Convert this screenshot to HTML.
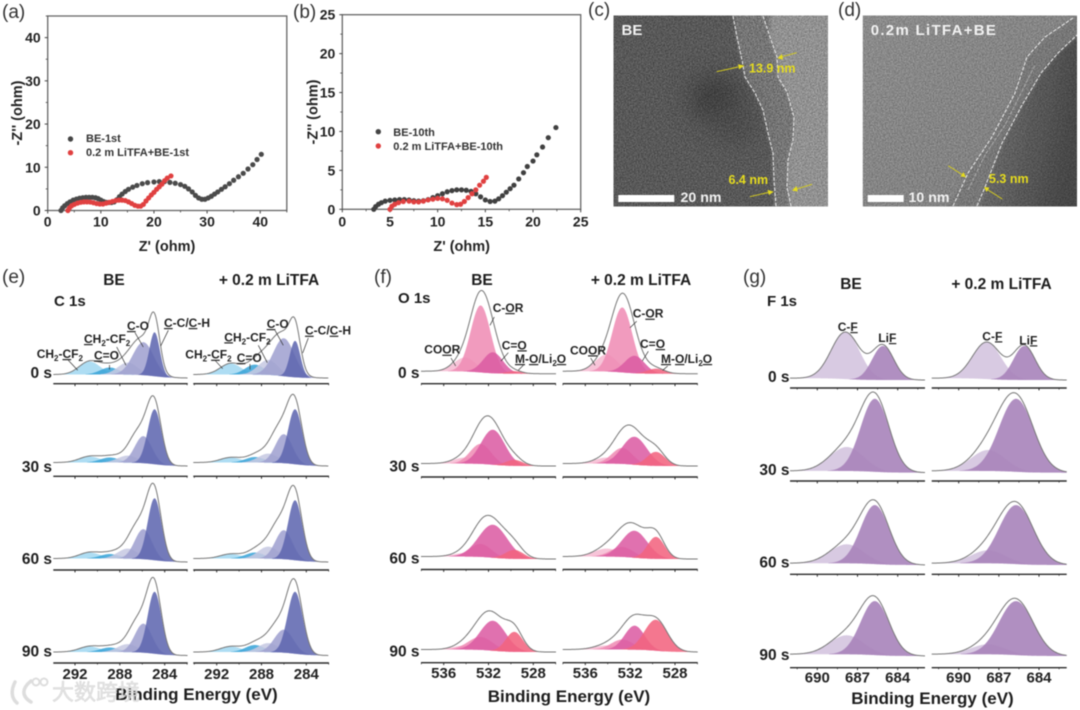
<!DOCTYPE html>
<html lang="en">
<head>
<meta charset="utf-8">
<title>EIS, TEM and XPS composite figure</title>
<style>
html,body{margin:0;padding:0;background:#fff;width:1080px;height:710px;overflow:hidden}
#chart{display:block;filter:blur(.5px)}
text{font-family:"Liberation Sans","Noto Sans CJK SC",sans-serif;fill:#1d1d1d}
.b{font-weight:700}
.pl{font-size:19px;fill:#333}
.tick{font-size:15px;font-weight:700;text-anchor:middle;fill:#222}
.nqtick{font-size:14px;font-weight:700;text-anchor:middle;fill:#222}
.ytick{font-size:14px;font-weight:700;text-anchor:end;fill:#222}
.ttl{font-size:14.5px;font-weight:700;text-anchor:middle;fill:#222}
.leg{font-size:11px;font-weight:700;fill:#333}
.hd{font-size:15.5px;font-weight:700;text-anchor:middle}
.be{font-size:17px;font-weight:700;text-anchor:middle}
.ann{font-size:12px;font-weight:700;fill:#222}
.ann tspan.u{text-decoration:underline}
.sub{font-size:8px}
.yel{font-size:12.5px;font-weight:700;fill:#e6dc1e}
.wh{font-weight:700;fill:#f2f2f2}
.lead{stroke:#333;stroke-width:.7;fill:none}
.dash{stroke:#eee;stroke-width:1;fill:none;stroke-dasharray:3.5 1.6}
.arr{stroke:#d9cf1c;stroke-width:.9;fill:none}
.arh{fill:#e6dc1e}
</style>
</head>
<body>
<svg id="chart" xmlns="http://www.w3.org/2000/svg" width="1080" height="710" viewBox="0 0 1080 710">
<defs>
<filter id="grain" x="0" y="0" width="100%" height="100%" color-interpolation-filters="sRGB">
<feTurbulence type="fractalNoise" baseFrequency="0.75" numOctaves="2" seed="4"/>
<feColorMatrix type="matrix" values="1.6 0 0 0 -.3 1.6 0 0 0 -.3 1.6 0 0 0 -.3 0 0 0 0 1"/>
</filter>
<filter id="soft" x="-80%" y="-80%" width="260%" height="260%"><feGaussianBlur stdDeviation="12"/></filter>
<filter id="soft2" x="-20%" y="-20%" width="140%" height="140%"><feGaussianBlur stdDeviation="1.5"/></filter>
<clipPath id="clipC"><rect x="613.5" y="15.5" width="214.5" height="191"/></clipPath>
<clipPath id="clipD"><rect x="862.7" y="15.5" width="214.3" height="191"/></clipPath>
<linearGradient id="dDark" x1="0" y1="0" x2="1" y2="0.3"><stop offset="0" stop-color="#757575"/><stop offset="1" stop-color="#464646"/></linearGradient>
<linearGradient id="dLeft" x1="0" y1="0" x2="1" y2="1"><stop offset="0" stop-color="#8b8b8b"/><stop offset="1" stop-color="#7d7d7d"/></linearGradient>
</defs>

<g id="panel-a">
<text class="pl" x="2" y="18">(a)</text>
<text class="ttl" x="167" y="251">Z' (ohm)</text>
<text class="ttl" transform="translate(22,113) rotate(-90)">-Z'' (ohm)</text>
<circle cx="70.5" cy="139" r="2.7" fill="#444"/>
<text class="leg" x="86" y="142">BE-1st</text>
<circle cx="70.5" cy="152.7" r="2.7" fill="#e04040"/>
<text class="leg" x="86" y="156">0.2 m LiTFA+BE-1st</text>
</g>

<g id="panel-b">
<text class="pl" x="293" y="18">(b)</text>
<text class="ttl" x="461.7" y="251">Z' (ohm)</text>
<text class="ttl" transform="translate(317.5,112) rotate(-90)">-Z'' (ohm)</text>
<circle cx="378.3" cy="131.7" r="2.7" fill="#444"/>
<text class="leg" x="393.3" y="136">BE-10th</text>
<circle cx="378.3" cy="146" r="2.7" fill="#e04040"/>
<text class="leg" x="393.3" y="150">0.2 m LiTFA+BE-10th</text>
</g>

<g id="panel-c">
<text class="pl" x="588" y="16">(c)</text>
<g clip-path="url(#clipC)">
<rect x="613.5" y="15.5" width="214.5" height="191" fill="#919191"/>
<path filter="url(#soft2)" d="M732,10 L770,10 L770,37 L777,57 L778,77 L787,92 L794,117 L793,140 L788,160 L787,187 L791,212 L775,212 L774,180 L773,153 L768,133 L763,110 L755,93 L745,77 L742,60 L737,37 Z" fill="#757575"/>
<path filter="url(#soft2)" d="M605,10 L733,10 L737,37 L742,60 L745,77 L755,93 L763,110 L768,133 L773,153 L774,180 L775,212 L605,212 Z" fill="#585858"/>
<ellipse cx="715" cy="98" rx="26" ry="24" fill="#3c3c3c" filter="url(#soft)" opacity=".9"/>
<ellipse cx="735" cy="125" rx="20" ry="18" fill="#484848" filter="url(#soft)" opacity=".9"/>
<rect x="613.5" y="15.5" width="214.5" height="191" filter="url(#grain)" style="mix-blend-mode:overlay" opacity=".35"/>
<path class="dash" d="M733,16 L737,37 L742,60 L745,77 L755,93 L763,110 L768,133 L773,153 L774,180 L776,206"/>
<path class="dash" d="M763,16 L770,37 L777,57 L778,77 L787,92 L794,117 L793,140 L788,160 L787,187 L791,206"/>
</g>
<rect x="618.3" y="195" width="56" height="7" fill="#fff"/>
<text class="wh" x="680.5" y="202" font-size="14.2">20 nm</text>
<text class="wh" x="621.5" y="35" font-size="15">BE</text>
<text class="yel" x="749" y="72.5">13.9 nm</text>
<text class="yel" x="728.5" y="184">6.4 nm</text>
<path class="arr" d="M716.7,71.7 L738,67"/><path class="arh" d="M738,64.2 L739,69.4 L744.5,65.6 Z"/>
<path class="arr" d="M796.7,52.7 L781,57"/><path class="arh" d="M782,54 L783,59.6 L777.5,58.3 Z"/>
<path class="arr" d="M750,196.7 L768,192.5"/><path class="arh" d="M767.5,189.8 L768.8,195 L773.7,191.7 Z"/>
<path class="arr" d="M812,184.3 L796,189.2"/><path class="arh" d="M796.5,186 L797.7,191.5 L792,190.5 Z"/>
</g>

<g id="panel-d">
<text class="pl" x="838" y="16">(d)</text>
<g clip-path="url(#clipD)">
<rect x="862.7" y="15.5" width="214.3" height="191" fill="url(#dLeft)"/>
<path filter="url(#soft2)" d="M945,212 L968,173 L992,137 L1015,93 L1027,57 L1045,37 L1085,10 L1085,35 L1058,53 L1041,73 L1021,107 L1002,143 L985,187 L977,212 Z" fill="#777"/>
<path filter="url(#soft2)" d="M977,212 L985,187 L1002,143 L1021,107 L1041,73 L1058,53 L1085,30 L1085,212 Z" fill="url(#dDark)"/>
<rect x="862.7" y="15.5" width="214.3" height="191" filter="url(#grain)" style="mix-blend-mode:overlay" opacity=".25"/>
<path class="dash" d="M953,206 L968,173 L992,137 L1015,93 L1027,57 L1045,37 L1073,18"/>
<path class="dash" d="M977,206 L985,187 L1002,143 L1021,107 L1041,73 L1058,53 L1077,35"/>
<path class="dash" style="opacity:.45" d="M968,190 L985,155 L1005,125 L1025,85 L1035,65"/>
</g>
<rect x="867.7" y="195" width="36" height="7" fill="#fff"/>
<text class="wh" x="908.5" y="202" font-size="14.2">10 nm</text>
<text class="wh" x="870.7" y="35" font-size="15" letter-spacing="1.3">0.2m LiTFA+BE</text>
<text class="yel" x="989" y="183">5.3 nm</text>
<path class="arr" d="M948.3,165.7 L962,174.5"/><path class="arh" d="M963.5,172 L960.5,176.5 L966,177.3 Z"/>
<path class="arr" d="M1002.3,199 L988,190"/><path class="arh" d="M989.5,187.6 L986.5,192 L984,187 Z"/>
</g>

<g id="panel-e">
<text class="pl" x="2" y="283">(e)</text>
<text class="hd" x="114" y="285">BE</text>
<text class="hd" x="269" y="285">+ 0.2 m LiTFA</text>
<text class="b" x="54" y="306" font-size="15">C 1s</text>
<text class="be" x="196.5" y="700">Binding Energy (eV)</text>
</g>
<g id="panel-f">
<text class="pl" x="374" y="283">(f)</text>
<text class="hd" x="482" y="285">BE</text>
<text class="hd" x="641" y="285">+ 0.2 m LiTFA</text>
<text class="b" x="398" y="303" font-size="15">O 1s</text>
<text class="be" x="569" y="702">Binding Energy (eV)</text>
</g>
<g id="panel-g">
<text class="pl" x="743" y="283">(g)</text>
<text class="hd" x="851" y="289">BE</text>
<text class="hd" x="1001.5" y="289">+ 0.2 m LiTFA</text>
<text class="b" x="767" y="306" font-size="15">F 1s</text>
<text class="be" x="932.5" y="704">Binding Energy (eV)</text>
</g>

<g id="annotations">
<!-- panel e, BE -->
<text class="ann" x="36.7" y="358">CH<tspan class="sub" dy="3">2</tspan><tspan dy="-3">-</tspan><tspan class="u">C</tspan>F<tspan class="sub" dy="3">2</tspan></text>
<text class="ann" x="94" y="359.5"><tspan class="u">C</tspan>=O</text>
<text class="ann" x="84" y="343"><tspan class="u">C</tspan>H<tspan class="sub" dy="3">2</tspan><tspan dy="-3">-CF</tspan><tspan class="sub" dy="3">2</tspan></text>
<text class="ann" x="127" y="330"><tspan class="u">C</tspan>-O</text>
<text class="ann" x="164" y="327"><tspan class="u">C</tspan>-C/<tspan class="u">C</tspan>-H</text>
<path class="lead" d="M68.3,360.3 L77.7,370.3 M109.5,365 L109.5,369.5 M116.7,347 L126,365.3 M135,332.7 L143.3,347 M168.3,330.3 L160.7,346"/>
<!-- panel e, LiTFA -->
<text class="ann" x="185.3" y="358.7">CH<tspan class="sub" dy="3">2</tspan><tspan dy="-3">-</tspan><tspan class="u">C</tspan>F<tspan class="sub" dy="3">2</tspan></text>
<text class="ann" x="236.7" y="362"><tspan class="u">C</tspan>=O</text>
<text class="ann" x="224.3" y="341.3"><tspan class="u">C</tspan>H<tspan class="sub" dy="3">2</tspan><tspan dy="-3">-CF</tspan><tspan class="sub" dy="3">2</tspan></text>
<text class="ann" x="266.7" y="328"><tspan class="u">C</tspan>-O</text>
<text class="ann" x="305" y="334.7"><tspan class="u">C</tspan>-C/<tspan class="u">C</tspan>-H</text>
<path class="lead" d="M215,360.3 L222.7,368.7 M250,364 L250,369.5 M258.3,345.3 L267.3,362.7 M275,330.3 L283.3,345.3 M308.3,338 L302.7,353"/>
<!-- panel f, BE -->
<text class="ann" x="492.7" y="312">C-<tspan class="u">O</tspan>R</text>
<text class="ann" x="424.3" y="353.7">CO<tspan class="u">O</tspan>R</text>
<text class="ann" x="501.7" y="349.3">C=<tspan class="u">O</tspan></text>
<text class="ann" x="515" y="363"><tspan class="u">M</tspan>-<tspan class="u">O</tspan>/Li<tspan class="sub" dy="3">2</tspan><tspan class="u" dy="-3">O</tspan></text>
<path class="lead" d="M494.3,317 L490,325.3 M451,358 L455.7,366 M508.3,352.7 L501,361 M523.3,365.3 L518.3,370.3"/>
<!-- panel f, LiTFA -->
<text class="ann" x="632.7" y="317.7">C-<tspan class="u">O</tspan>R</text>
<text class="ann" x="570" y="354.3">CO<tspan class="u">O</tspan>R</text>
<text class="ann" x="640" y="348">C=<tspan class="u">O</tspan></text>
<text class="ann" x="661" y="363"><tspan class="u">M</tspan>-<tspan class="u">O</tspan>/Li<tspan class="sub" dy="3">2</tspan><tspan class="u" dy="-3">O</tspan></text>
<path class="lead" d="M636.7,321.3 L630,327.7 M590.7,358 L595,365.3 M648.3,351.3 L642.3,361 M667.7,366 L662.7,370.3"/>
<!-- panel g -->
<text class="ann" x="837.7" y="331">C-<tspan class="u">F</tspan></text>
<text class="ann" x="878.3" y="342">Li<tspan class="u">F</tspan></text>
<text class="ann" x="982.3" y="340.3">C-<tspan class="u">F</tspan></text>
<text class="ann" x="1019.3" y="344.3">Li<tspan class="u">F</tspan></text>
</g>

<g id="watermark" opacity=".85">
<g fill="none" stroke="#d8d8d8" stroke-width="3.5" stroke-linecap="round">
<path d="M15,682 C11,690 11,698 17,703"/><path d="M31,681 C22,688 21,696 31,702"/>
<circle cx="36" cy="682" r="3.5" stroke-width="2"/><circle cx="44" cy="682" r="3.5" stroke-width="2"/>
</g>
<text x="52" y="700" font-size="22" style="fill:#e0e0e0;stroke:#cfcfcf;stroke-width:.5">大数跨境</text>
</g>
</svg>

<script>
/* ---------- panel (a) data ---------- */
const aBeX=[2.5,2.8,3.2,3.7,4.2,4.8,5.4,6,6.6,7.2,7.8,8.4,9,9.5,10,10.5,11,11.5,12,12.5,13,13.5,14,14.6,15.2,16,16.8,17.8,18.8,20,21,22,23,24,25,25.8,26.5,27.2,27.8,28.4,29,29.6,30.2,30.8,31.4,32,32.7,33.4,34.2,35,35.9,36.8,37.7,38.6,39.4,40.2];
const aBeY=[0,0.6,1.1,1.6,2,2.4,2.65,2.85,2.95,3.05,3.05,3.05,2.95,2.75,2.4,2.1,1.9,1.85,1.85,2,2.5,3.2,3.8,4.4,4.9,5.4,5.8,6.2,6.45,6.6,6.7,6.7,6.5,6.3,6,5.6,5,4.3,3.5,2.9,2.6,2.6,2.9,3.3,3.8,4.3,4.9,5.5,6.2,7,7.8,8.6,9.6,10.6,11.8,13];
const aLiX=[3.8,4.1,4.5,5,5.6,6.2,6.8,7.4,8,8.6,9.2,9.8,10.4,11,11.6,12.2,12.8,13.4,14,14.6,15.2,15.8,16.4,17,17.5,18,18.5,19,19.5,20,20.5,21,21.5,22,22.5,23.2];
const aLiY=[0,0.6,1.1,1.4,1.7,1.9,2,2,1.95,1.8,1.6,1.5,1.5,1.7,1.9,2.1,2.3,2.4,2.4,2.3,2,1.6,1.2,1,1,1.4,2.2,2.9,3.6,4.2,4.9,5.5,6.1,6.9,7.5,8];
const aXTicks=[0,10,20,30,40];
const aYTicks=[0,10,20,30,40];

/* ---------- panel (b) data ---------- */
const bBeX=[3.3,3.5,3.8,4.1,4.5,5,5.5,6,6.5,7,7.5,8,8.5,9,9.5,10,10.5,11,11.5,12,12.5,13,13.5,14,14.5,15,15.5,16,16.4,16.8,17.2,17.6,18,18.5,19,19.4,20,20.4,21,21.6,22.4];
const bBeY=[0,0.35,0.65,0.85,1.05,1.15,1.2,1.25,1.25,1.2,1.1,1.05,1.1,1.25,1.5,1.75,2,2.25,2.4,2.5,2.5,2.45,2.3,2,1.6,1.2,1,1.05,1.35,1.75,2.2,2.65,3.1,3.9,4.7,5.5,6.2,7,8,9.2,10.5];
const bLiX=[5,5.2,5.5,5.9,6.4,7,7.5,8,8.5,9,9.5,10,10.5,11,11.5,12,12.4,12.8,13.2,13.6,14,14.4,14.8,15.1];
const bLiY=[0,0.4,0.65,0.85,1,1.05,0.95,0.95,1.05,1.2,1.3,1.4,1.35,1.15,0.8,0.6,0.65,1,1.5,2,2.5,3.1,3.6,4.1];
const bXTicks=[0,5,10,15,20,25];
const bYTicks=[0,5,10,15,20,25];

/* ---------- C 1s peaks: CF2, C=O, CH2, C-O, C-C ---------- */
const c1sCentersBE=[290.7,288.9,287.3,285.9,284.9];
const c1sCentersLi=[290.75,288.6,287.4,286,285];
const c1sWidthsFresh=[2.2,2,2.1,2.2,1.1];
const c1sWidthsBE=[2.2,2,2.1,1.8,1.45];
const c1sWidthsLi=[2.2,2,2.1,1.8,1.5];
const c1sWidthsLi90=[2.2,2,2.1,2,1.6];
const c1sColors=['#a3d8f1','#3ba5d8','#c7c9e3','#a0a2d0','#6068b0'];
const c1sBE0=[13,7,12,33,44];
const c1sBE30=[6,5,7,27,55];
const c1sBE60=[6,4.5,10,30,62];
const c1sBE90=[5.5,4.5,8,29,62];
const c1sLi0=[11,10,15,38,36.5];
const c1sLi30=[5,5.5,9,29,55];
const c1sLi60=[4.5,6,12,29,60];
const c1sLi90=[5.5,7,9,23,62];
/* residual shoulder in the measured envelope, not assigned to a fitted component: centre, FWHM, height */
const c1sShoulderNone=[286.8,1.4,0];
const c1sShoulder=[286.8,1.4,8];
const c1sShoulderLi90=[286.8,1.4,6];
const c1sXTicks=[292,288,284];

/* ---------- O 1s peaks: COOR, C-OR, C=O, M-O ---------- */
const o1sCenters=[534.1,532.7,531.6,529.7];
const o1sColors=['#f6bcd3','#ef8db5','#dc5da4','#f2647f'];
const o1sBE0=[14,67,21,2.5];
const o1sBE30=[6,20,35,6];
const o1sBE60=[3.5,13,33,9];
const o1sBE90=[4,13,30,20];
const o1sLi0=[17,65,17.5,5];
const o1sLi30=[6,16,28,14];
const o1sLi60=[8,10,27,22];
const o1sLi90=[4,10,24,31];
const o1sWidthsBE0=[2.3,2.1,2.1,1.6];
const o1sWidthsBE30=[2.4,2.2,2.5,1.8];
const o1sWidthsBE60=[2.4,2.3,3,1.9];
const o1sWidthsBE90=[2.4,2.6,2.7,1.8];
const o1sWidthsLi0=[2.3,2.1,2.1,1.8];
const o1sWidthsLi30=[2.4,2.2,2.6,1.9];
const o1sWidthsLi60=[2.6,2.4,2.7,1.8];
const o1sWidthsLi90=[2.6,2.3,2.1,2.4];
const o1sXTicks=[536,532,528];

/* ---------- F 1s peaks: C-F, LiF ---------- */
const f1sColors=['#d5c5e0','#a985bc'];
const f1sBE0=[47,34];
const f1sBE30=[24,73];
const f1sBE60=[19,59];
const f1sBE90=[19,54];
const f1sLi0=[37,34];
const f1sLi30=[21,73];
const f1sLi60=[13,59];
const f1sLi90=[10,54];
const f1sCentersEarly=[687.9,685.1];
const f1sCentersLate=[687.8,685.7];
const f1sWidthsEarly=[2.5,1.9];
const f1sWidthsBE=[3,2.5];
const f1sWidthsLi=[3,3];
const f1sXTicks=[690,687,684];

const rowLabels=['0 s','30 s','60 s','90 s'];

/* ---------- helpers ---------- */
const SVGNS='http://www.w3.org/2000/svg';
const root=document.getElementById('chart');
function make(tag,attrs,parent){
  const el=document.createElementNS(SVGNS,tag);
  for(const k in attrs){el.setAttribute(k,attrs[k]);}
  (parent||root).appendChild(el);
  return el;
}
function linear(d0,d1,r0,r1){
  const f=v=>r0+(v-d0)*(r1-r0)/(d1-d0);
  f.inv=p=>d0+(p-r0)*(d1-d0)/(r1-r0);
  return f;
}

/* ---------- Nyquist plots ---------- */
function drawNyquist(parent,sx,sy,xMax,yMax,xTicks,yTicks,xMinor,yMinor,labelGapX,labelY,series){
  const g=make('g',{},parent);
  const frame=make('rect',{x:sx(0),y:sy(yMax),width:sx(xMax)-sx(0),height:sy(0)-sy(yMax),fill:'none',stroke:'#666','stroke-width':1.3},g);
  
  
  xTicks.forEach(v=>{
    const t=make('line',{x1:sx(v),x2:sx(v),y1:sy(0),y2:sy(0)+3,stroke:'#444','stroke-width':1},g);
    
    
    const l=make('text',{class:'nqtick',x:sx(v),y:labelY},g);
    
    
    l.textContent=v;
    if(v+xMinor<=xMax){
      const m=make('line',{x1:sx(v+xMinor),x2:sx(v+xMinor),y1:sy(0),y2:sy(0)+2,stroke:'#444','stroke-width':.8},g);
      
      
    }
  });
  yTicks.forEach(v=>{
    const t=make('line',{x1:sx(0)-3,x2:sx(0),y1:sy(v),y2:sy(v),stroke:'#444','stroke-width':1},g);
    
    
    const l=make('text',{class:'ytick',x:sx(0)-labelGapX,y:sy(v)+5},g);
    
    
    l.textContent=v;
    if(v+yMinor<=yMax){
      const m=make('line',{x1:sx(0)-2,x2:sx(0),y1:sy(v+yMinor),y2:sy(v+yMinor),stroke:'#444','stroke-width':.8},g);
      
      
    }
  });
  series.forEach(s=>{
    s.xs.forEach((x,i)=>{
      const c=make('circle',{cx:sx(x),cy:sy(s.ys[i]),r:2.6,fill:s.color},g);
      
      
    });
  });
}
drawNyquist(document.getElementById('panel-a'),linear(0,45,47.7,286.8),linear(0,45,210.5,16),45,45,aXTicks,aYTicks,5,5,7,226.7,[
  {xs:aBeX,ys:aBeY,color:'#4a4a4a',name:'be-1st-point'},
  {xs:aLiX,ys:aLiY,color:'#e04040',name:'litfa-1st-point'}]);
drawNyquist(document.getElementById('panel-b'),linear(0,25,342.3,580.7),linear(0,25,209.3,14.7),25,25,bXTicks,bYTicks,2.5,2.5,7,226.5,[
  {xs:bBeX,ys:bBeY,color:'#404040',name:'be-10th-point'},
  {xs:bLiX,ys:bLiY,color:'#e04040',name:'litfa-10th-point'}]);

/* ---------- XPS columns ---------- */
function gauss(E,c,w,h){
  const d=(E-c)/w;
  return h*Math.exp(-2.7726*d*d);
}
function drawXpsColumn(cfg){
  const g=make('g',{},cfg.parent);
  
  
  const sx=linear(cfg.tickE0,cfg.tickE1,cfg.tickX0,cfg.tickX1);
  cfg.rows.forEach((row,ri)=>{
    const base=cfg.bases[ri];
    const centers=row.centers;
    const widths=row.widths;
    const heights=row.heights;
    const main=centers[heights.indexOf(Math.max(...heights))];
    const bg=E=>cfg.step/(1+Math.exp(-(E-main)/0.7));
    const pxs=[];
    for(let p=cfg.x0;p<=cfg.x1;p+=0.75){pxs.push(p);}
    heights.forEach((h,pi)=>{
      const top=[],bot=[];
      pxs.forEach(p=>{
        const E=sx.inv(p);
        const v=gauss(E,centers[pi],widths[pi],h);
        if(v>0.25){
          top.push(p.toFixed(2)+','+(base-bg(E)-v).toFixed(2));
          bot.unshift(p.toFixed(2)+','+(base-bg(E)).toFixed(2));
        }
      });
      const poly=make('polygon',{points:top.concat(bot).join(' '),fill:cfg.colors[pi],'fill-opacity':cfg.opacity},g);
      
      
    });
    const env=pxs.map(p=>{
      const E=sx.inv(p);
      let t=bg(E);
      heights.forEach((h,pi)=>{t+=gauss(E,centers[pi],widths[pi],h);});
      if(row.shoulder){t+=gauss(E,row.shoulder[0],row.shoulder[1],row.shoulder[2]);}
      return p.toFixed(2)+','+(base-t).toFixed(2);
    });
    const line=make('polyline',{points:env.join(' '),fill:'none',stroke:'#777','stroke-width':1},g);
    
    

    const ay=cfg.axisY[ri];
    const axis=make('line',{x1:cfg.x0,x2:cfg.x1,y1:ay,y2:ay,stroke:'#2a2a2a','stroke-width':1.4},g);
    
    
    const dE=cfg.ticks[1]-cfg.ticks[0];
    for(let k=-1;k<=cfg.ticks.length;k++){
      const E=cfg.ticks[0]+k*dE;
      if(sx(E)>cfg.x0&&sx(E)<cfg.x1){
        const mj=make('line',{x1:sx(E),x2:sx(E),y1:ay,y2:ay+2.4,stroke:'#2a2a2a','stroke-width':1},g);
        
        
      }
      if(sx(E+dE/2)>cfg.x0&&sx(E+dE/2)<cfg.x1){
        const mn=make('line',{x1:sx(E+dE/2),x2:sx(E+dE/2),y1:ay,y2:ay+1.6,stroke:'#2a2a2a','stroke-width':.7},g);
        
        
      }
    }
    if(ri===3){
      cfg.ticks.forEach(E=>{
        const l=make('text',{class:'tick',x:sx(E),y:cfg.tickLabelY},g);
        
        
        l.textContent=E;
      });
    }
    if(cfg.labelX){
      const l=make('text',{x:cfg.labelX,y:cfg.labelY[ri],'text-anchor':'end','font-weight':700,'font-size':15.5},g);
      
      
      l.textContent=rowLabels[ri];
    }
  });
}

const cNames=['ch2-cf2','c-double-o','ch2-cf2-inner','c-o','c-c'];
const oNames=['coor','c-or','c-double-o','m-o'];
const fNames=['c-f','lif'];
const cAxis=[383.7,476.3,570,663];
const oAxis=[383.7,477,569.5,662.7];
const fAxis=[388,481,574.3,667.7];
const cLabelY=[378,472,564,656.7];
const oLabelY=[378,471.3,563.3,656.7];
const fLabelY=[382,475,567.3,660];

const pe=document.getElementById('panel-e');
const pf=document.getElementById('panel-f');
const pg=document.getElementById('panel-g');

drawXpsColumn({parent:pe,name:'c1s-be-column',peakNames:cNames,colors:c1sColors,opacity:.88,
  tickE0:292,tickE1:284,tickX0:75,tickX1:164.7,x0:53.3,x1:187.7,step:3.5,
  bases:[378,466,562,655.5],axisY:cAxis,ticks:c1sXTicks,tickLabelY:679,labelX:52,labelY:cLabelY,
  rows:[
    {heights:c1sBE0,centers:c1sCentersBE,widths:c1sWidthsFresh,shoulder:c1sShoulderNone},
    {heights:c1sBE30,centers:c1sCentersBE,widths:c1sWidthsBE,shoulder:c1sShoulder},
    {heights:c1sBE60,centers:c1sCentersBE,widths:c1sWidthsBE,shoulder:c1sShoulder},
    {heights:c1sBE90,centers:c1sCentersBE,widths:c1sWidthsBE,shoulder:c1sShoulder}]});
drawXpsColumn({parent:pe,name:'c1s-litfa-column',peakNames:cNames,colors:c1sColors,opacity:.88,
  tickE0:292,tickE1:284,tickX0:216.7,tickX1:306.3,x0:193.3,x1:329,step:3.5,
  bases:[378,466,562,655.5],axisY:cAxis,ticks:c1sXTicks,tickLabelY:679,
  rows:[
    {heights:c1sLi0,centers:c1sCentersLi,widths:c1sWidthsFresh,shoulder:c1sShoulderNone},
    {heights:c1sLi30,centers:c1sCentersLi,widths:c1sWidthsLi,shoulder:c1sShoulder},
    {heights:c1sLi60,centers:c1sCentersLi,widths:c1sWidthsLi,shoulder:c1sShoulder},
    {heights:c1sLi90,centers:c1sCentersLi,widths:c1sWidthsLi90,shoulder:c1sShoulderLi90}]});
drawXpsColumn({parent:pf,name:'o1s-be-column',peakNames:oNames,colors:o1sColors,opacity:.88,
  tickE0:536,tickE1:528,tickX0:443.7,tickX1:533.3,x0:421,x1:556,step:2.5,
  bases:[373.7,466,559,652],axisY:oAxis,ticks:o1sXTicks,tickLabelY:678,labelX:419.5,labelY:oLabelY,
  rows:[
    {heights:o1sBE0,centers:o1sCenters,widths:o1sWidthsBE0},
    {heights:o1sBE30,centers:o1sCenters,widths:o1sWidthsBE30},
    {heights:o1sBE60,centers:o1sCenters,widths:o1sWidthsBE60},
    {heights:o1sBE90,centers:o1sCenters,widths:o1sWidthsBE90}]});
drawXpsColumn({parent:pf,name:'o1s-litfa-column',peakNames:oNames,colors:o1sColors,opacity:.88,
  tickE0:536,tickE1:528,tickX0:585.3,tickX1:675,x0:562.7,x1:697.7,step:2.5,
  bases:[373.7,466,559,652],axisY:oAxis,ticks:o1sXTicks,tickLabelY:678,
  rows:[
    {heights:o1sLi0,centers:o1sCenters,widths:o1sWidthsLi0},
    {heights:o1sLi30,centers:o1sCenters,widths:o1sWidthsLi30},
    {heights:o1sLi60,centers:o1sCenters,widths:o1sWidthsLi60},
    {heights:o1sLi90,centers:o1sCenters,widths:o1sWidthsLi90}]});
drawXpsColumn({parent:pg,name:'f1s-be-column',peakNames:fNames,colors:f1sColors,opacity:.92,
  tickE0:690,tickE1:684,tickX0:817.3,tickX1:897.7,x0:790,x1:925,step:1.8,
  bases:[380,472.7,565,656],axisY:fAxis,ticks:f1sXTicks,tickLabelY:682.7,labelX:789.5,labelY:fLabelY,
  rows:[
    {heights:f1sBE0,centers:f1sCentersEarly,widths:f1sWidthsEarly},
    {heights:f1sBE30,centers:f1sCentersLate,widths:f1sWidthsBE},
    {heights:f1sBE60,centers:f1sCentersLate,widths:f1sWidthsBE},
    {heights:f1sBE90,centers:f1sCentersLate,widths:f1sWidthsBE}]});
drawXpsColumn({parent:pg,name:'f1s-litfa-column',peakNames:fNames,colors:f1sColors,opacity:.92,
  tickE0:690,tickE1:684,tickX0:958.7,tickX1:1039,x0:931.7,x1:1066.7,step:1.8,
  bases:[380,472.7,565,656],axisY:fAxis,ticks:f1sXTicks,tickLabelY:682.7,
  rows:[
    {heights:f1sLi0,centers:f1sCentersEarly,widths:f1sWidthsEarly},
    {heights:f1sLi30,centers:f1sCentersLate,widths:f1sWidthsLi},
    {heights:f1sLi60,centers:f1sCentersLate,widths:f1sWidthsLi},
    {heights:f1sLi90,centers:f1sCentersLate,widths:f1sWidthsLi}]});

/* keep annotations and watermark above the plotted marks */
root.appendChild(document.getElementById('annotations'));
root.appendChild(document.getElementById('watermark'));
</script>
</body>
</html>
